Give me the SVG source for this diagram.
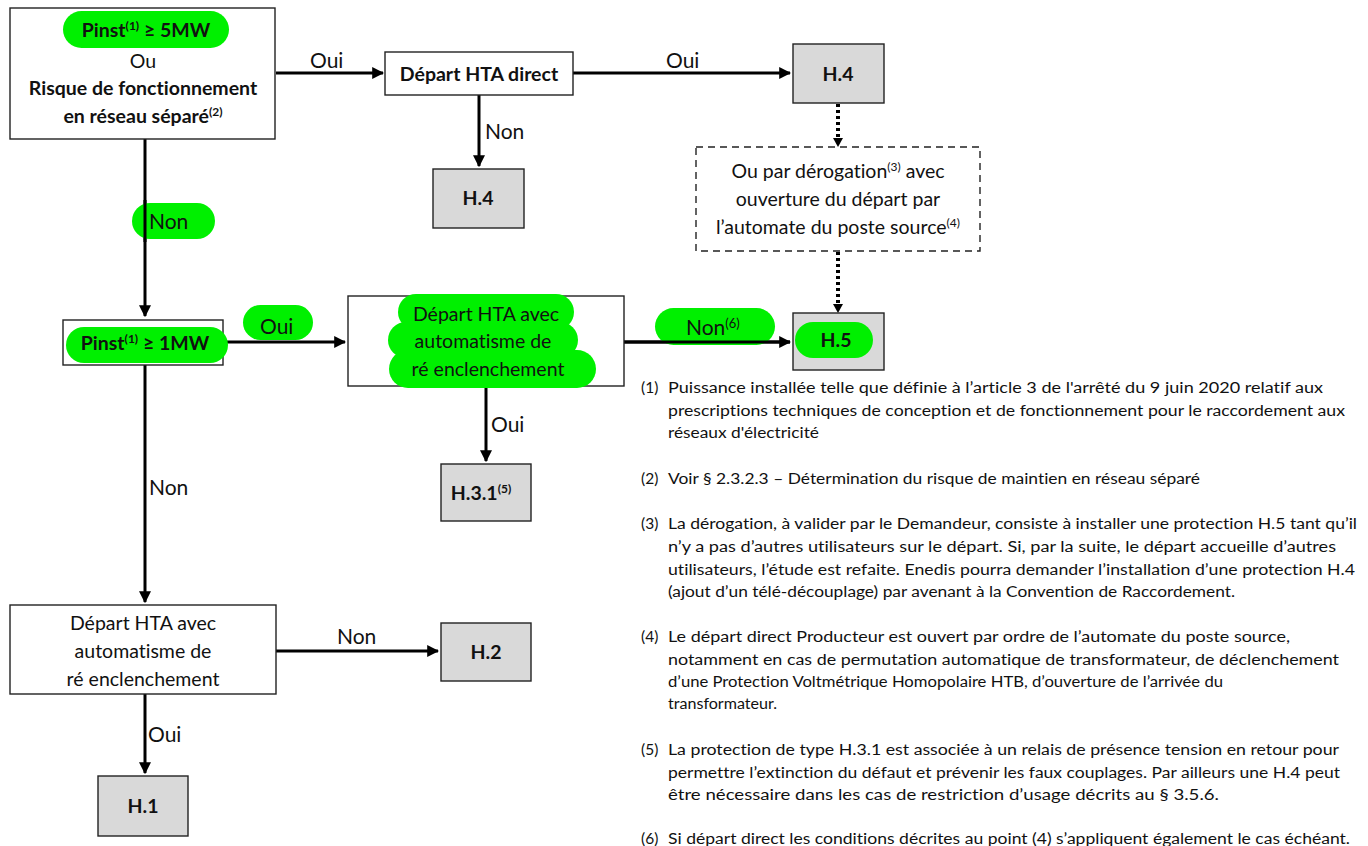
<svg xmlns="http://www.w3.org/2000/svg" width="1368" height="846" viewBox="0 0 1368 846">
<style>
text{font-family:Lato,"Open Sans","Liberation Sans",sans-serif;fill:#111;font-variant-ligatures:none}
.box{fill:#fff;stroke:#222;stroke-width:1.4}
.res{fill:#d9d9d9;stroke:#222;stroke-width:1.4}
.dash{fill:#fff;stroke:#222;stroke-width:1.4;stroke-dasharray:7,5}
.hl{fill:#00f000}
.b{font-weight:bold;font-size:19.5px}
.n{font-size:19.5px}
.lbl{font-size:21px}
.fn{font-size:15.5px}
.c{stroke:#000;stroke-width:3;fill:none}
.d{stroke:#000;stroke-width:4;fill:none;stroke-dasharray:3,3}
</style>
<defs>
<marker id="ah" viewBox="0 0 10 10" refX="9" refY="5" markerWidth="4" markerHeight="4" orient="auto" markerUnits="strokeWidth">
<path d="M0,0 L10,5 L0,10 z" fill="#000"/>
</marker>
</defs>
<rect width="1368" height="846" fill="#fff"/>

<g id="connectors">
<line class="c" x1="276" y1="73" x2="383" y2="73" marker-end="url(#ah)"/>
<line class="c" x1="573" y1="73" x2="790" y2="73" marker-end="url(#ah)"/>
<line class="c" x1="479" y1="95" x2="479" y2="166" marker-end="url(#ah)"/>
<line class="d" x1="838" y1="104" x2="838" y2="140"/>
<path d="M833,138 L843,138 L838,147 z" fill="#000"/>
<line class="d" x1="838" y1="252" x2="838" y2="306"/>
<path d="M833,304 L843,304 L838,313 z" fill="#000"/>
<line class="c" x1="145" y1="139" x2="145" y2="316" marker-end="url(#ah)"/>
<line class="c" x1="223" y1="342" x2="345" y2="342" marker-end="url(#ah)"/>
<line class="c" x1="624" y1="342" x2="790" y2="342" marker-end="url(#ah)"/>
<line class="c" x1="486" y1="386" x2="486" y2="461" marker-end="url(#ah)"/>
<line class="c" x1="145" y1="365" x2="145" y2="602" marker-end="url(#ah)"/>
<line class="c" x1="276" y1="651" x2="438" y2="651" marker-end="url(#ah)"/>
<line class="c" x1="145" y1="694" x2="145" y2="773" marker-end="url(#ah)"/>
<text class="lbl" x="310" y="68">Oui</text>
<text class="lbl" x="666" y="68">Oui</text>
<text class="lbl" x="485" y="139">Non</text>
<rect class="hl" x="132" y="203" width="83" height="36" rx="18"/>
<line class="c" x1="145" y1="200" x2="145" y2="242"/>
<text class="lbl" x="149" y="229">Non</text>
<rect class="hl" x="243" y="305" width="70" height="35" rx="17.5"/>
<text class="lbl" x="260" y="334">Oui</text>
<rect class="hl" x="655" y="308" width="120" height="37" rx="18.5"/>
<line class="c" x1="624" y1="342" x2="790" y2="342"/>
<text class="lbl" x="686" y="335">Non<tspan dy="-7" font-size="13">(6)</tspan></text>
<text class="lbl" x="491" y="432">Oui</text>
<text class="lbl" x="149" y="495">Non</text>
<text class="lbl" x="337" y="644">Non</text>
<text class="lbl" x="148" y="742">Oui</text>
</g>

<g id="n1">
<rect class="box" x="10" y="8" width="265" height="131"/>
<rect class="hl" x="63" y="11" width="166" height="37" rx="18.5"/>
<text class="b" x="146" y="37" text-anchor="middle">Pinst<tspan dy="-7" font-size="12">(1)</tspan><tspan dy="7"> ≥ 5MW</tspan></text>
<text class="n" x="143" y="68" text-anchor="middle">Ou</text>
<text class="b" x="143" y="95" text-anchor="middle" font-size="21">Risque de fonctionnement</text>
<text class="b" x="143" y="123" text-anchor="middle" font-size="21">en réseau séparé<tspan dy="-7" font-size="12">(2)</tspan></text>
</g>

<g id="n2">
<rect class="box" x="385" y="52" width="188" height="43"/>
<text class="b" x="479" y="81" text-anchor="middle">Départ HTA direct</text>
</g>

<g id="n3">
<rect class="res" x="793" y="44" width="91" height="59"/>
<text class="b" x="838" y="81" text-anchor="middle">H.4</text>
</g>

<g id="n4">
<rect class="res" x="433" y="169" width="91" height="59"/>
<text class="b" x="478" y="205" text-anchor="middle">H.4</text>
</g>

<g id="n5">
<rect class="dash" x="696" y="147" width="284" height="104"/>
<text class="n" x="838" y="178" text-anchor="middle">Ou par dérogation<tspan dy="-7" font-size="12">(3)</tspan><tspan dy="7"> avec</tspan></text>
<text class="n" x="838" y="206" text-anchor="middle">ouverture du départ par</text>
<text class="n" x="838" y="234" text-anchor="middle">l’automate du poste source<tspan dy="-7" font-size="12">(4)</tspan></text>
</g>

<g id="n6">
<rect class="res" x="793" y="313" width="91" height="57"/>
<rect class="hl" x="795" y="322" width="78" height="36" rx="18"/>
<text class="b" x="836" y="347" text-anchor="middle">H.5</text>
</g>

<g id="n7">
<rect class="box" x="63" y="320" width="160" height="45"/>
<rect class="hl" x="66" y="327" width="162" height="36" rx="18"/>
<text class="b" x="145" y="350" text-anchor="middle">Pinst<tspan dy="-7" font-size="12">(1)</tspan><tspan dy="7"> ≥ 1MW</tspan></text>
</g>

<g id="n8">
<rect class="box" x="348" y="296" width="276" height="90"/>
<rect class="hl" x="398" y="294" width="176" height="36" rx="18"/>
<rect class="hl" x="388" y="322" width="190" height="36" rx="18"/>
<rect class="hl" x="389" y="350" width="207" height="38" rx="19"/>
<text class="n" x="486" y="321" text-anchor="middle">Départ HTA avec</text>
<text class="n" x="483" y="348" text-anchor="middle">automatisme de</text>
<text class="n" x="488" y="376" text-anchor="middle">ré enclenchement</text>
</g>

<g id="n9">
<rect class="res" x="441" y="464" width="90" height="57"/>
<text class="b" x="481" y="500" text-anchor="middle">H.3.1<tspan dy="-7" font-size="12">(5)</tspan></text>
</g>

<g id="n10">
<rect class="box" x="10" y="605" width="266" height="89"/>
<text class="n" x="143" y="630" text-anchor="middle">Départ HTA avec</text>
<text class="n" x="143" y="658" text-anchor="middle">automatisme de</text>
<text class="n" x="143" y="686" text-anchor="middle">ré enclenchement</text>
</g>

<g id="n11">
<rect class="res" x="441" y="623" width="90" height="58"/>
<text class="b" x="486" y="659" text-anchor="middle">H.2</text>
</g>

<g id="n12">
<rect class="res" x="98" y="776" width="90" height="60"/>
<text class="b" x="143" y="813" text-anchor="middle">H.1</text>
</g>

<g id="notes" class="fn">
<text class="fn" x="641" y="393">(1)</text>
<text class="fn" x="668" y="393" textLength="655" lengthAdjust="spacingAndGlyphs">Puissance installée telle que définie à l’article 3 de l'arrêté du 9 juin 2020 relatif aux</text>
<text class="fn" x="668" y="416" textLength="677" lengthAdjust="spacingAndGlyphs">prescriptions techniques de conception et de fonctionnement pour le raccordement aux</text>
<text class="fn" x="668" y="438" textLength="151" lengthAdjust="spacingAndGlyphs">réseaux d'électricité</text>
<text class="fn" x="641" y="484">(2)</text>
<text class="fn" x="668" y="484" textLength="532" lengthAdjust="spacingAndGlyphs">Voir § 2.3.2.3 – Détermination du risque de maintien en réseau séparé</text>
<text class="fn" x="641" y="529">(3)</text>
<text class="fn" x="668" y="529" textLength="689" lengthAdjust="spacingAndGlyphs">La dérogation, à valider par le Demandeur, consiste à installer une protection H.5 tant qu’il</text>
<text class="fn" x="668" y="552" textLength="668" lengthAdjust="spacingAndGlyphs">n’y a pas d’autres utilisateurs sur le départ. Si, par la suite, le départ accueille d’autres</text>
<text class="fn" x="668" y="575" textLength="687" lengthAdjust="spacingAndGlyphs">utilisateurs, l’étude est refaite. Enedis pourra demander l’installation d’une protection H.4</text>
<text class="fn" x="668" y="597" textLength="567" lengthAdjust="spacingAndGlyphs">(ajout d’un télé-découplage) par avenant à la Convention de Raccordement.</text>
<text class="fn" x="641" y="642">(4)</text>
<text class="fn" x="668" y="642" textLength="622" lengthAdjust="spacingAndGlyphs">Le départ direct Producteur est ouvert par ordre de l’automate du poste source,</text>
<text class="fn" x="668" y="665" textLength="671" lengthAdjust="spacingAndGlyphs">notamment en cas de permutation automatique de transformateur, de déclenchement</text>
<text class="fn" x="668" y="687" textLength="555" lengthAdjust="spacingAndGlyphs">d’une Protection Voltmétrique Homopolaire HTB, d’ouverture de l’arrivée du</text>
<text class="fn" x="668" y="709" textLength="109" lengthAdjust="spacingAndGlyphs">transformateur.</text>
<text class="fn" x="641" y="755">(5)</text>
<text class="fn" x="668" y="755" textLength="671" lengthAdjust="spacingAndGlyphs">La protection de type H.3.1 est associée à un relais de présence tension en retour pour</text>
<text class="fn" x="668" y="778" textLength="672" lengthAdjust="spacingAndGlyphs">permettre l’extinction du défaut et prévenir les faux couplages. Par ailleurs une H.4 peut</text>
<text class="fn" x="668" y="800" textLength="551" lengthAdjust="spacingAndGlyphs">être nécessaire dans les cas de restriction d’usage décrits au § 3.5.6.</text>
<text class="fn" x="641" y="844">(6)</text>
<text class="fn" x="668" y="844" textLength="682" lengthAdjust="spacingAndGlyphs">Si départ direct les conditions décrites au point (4) s’appliquent également le cas échéant.</text>
</g>
</svg>
